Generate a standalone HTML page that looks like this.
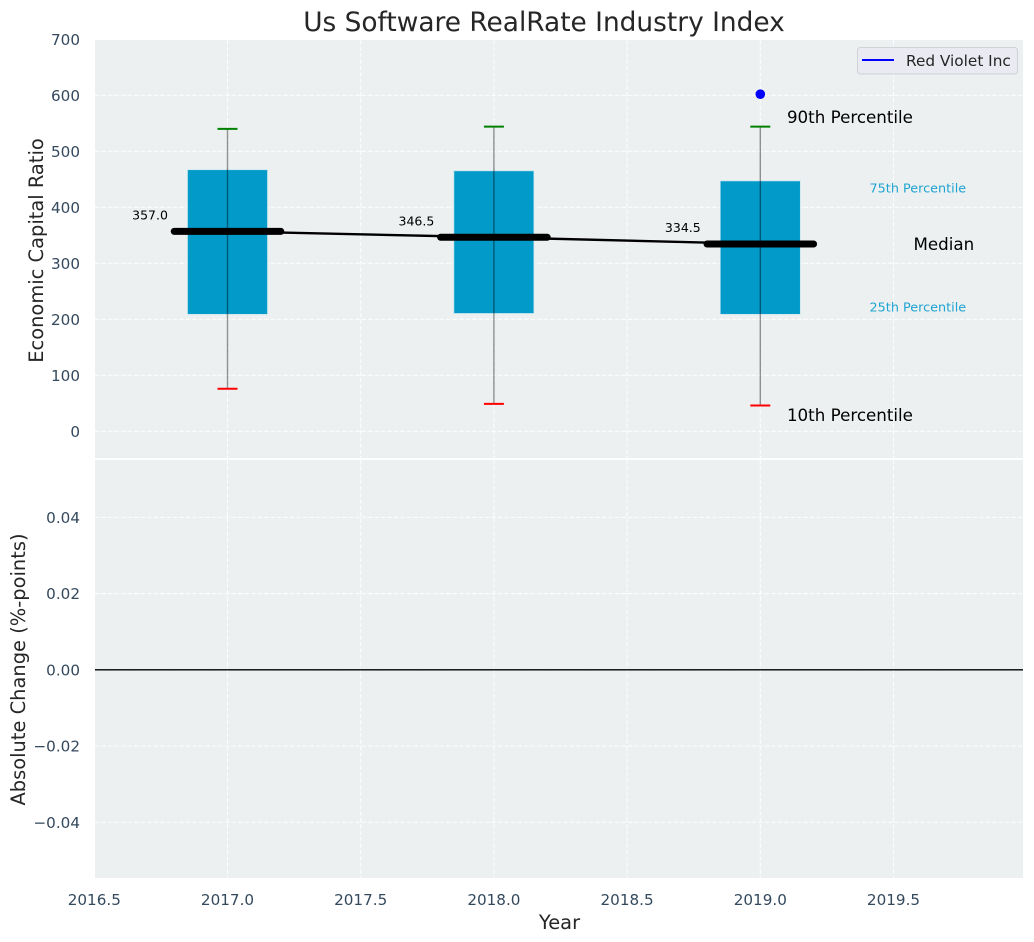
<!DOCTYPE html>
<html>
<head>
<meta charset="utf-8">
<title>Us Software RealRate Industry Index</title>
<style>
html,body{margin:0;padding:0;background:#fff;width:1034px;height:942px;overflow:hidden}
svg{display:block;font-family:"DejaVu Sans","Liberation Sans",sans-serif}
</style>
</head>
<body>
<svg id="chart" width="1034" height="942" viewBox="0 0 1034 942" xmlns="http://www.w3.org/2000/svg">
  <rect x="95" y="40" width="928" height="418" fill="#ecf0f1"/>
  <rect x="95" y="460" width="928" height="418" fill="#ecf0f1"/>
  <g id="grid"></g>
  <g id="ticks"></g>
  <g id="marks"></g>
  <text x="544" y="31" text-anchor="middle" font-size="26.4" fill="#262626">Us Software RealRate Industry Index</text>
  <text transform="translate(43,250.5) rotate(-90)" text-anchor="middle" font-size="19.45" fill="#262626">Economic Capital Ratio</text>
  <text transform="translate(25,669.5) rotate(-90)" text-anchor="middle" font-size="19.45" fill="#262626">Absolute Change (%-points)</text>
  <text x="559.5" y="929" text-anchor="middle" font-size="19.45" fill="#262626">Year</text>
  <g>
    <rect x="857.5" y="47.5" width="160" height="26.5" rx="3" fill="#eaeaf2" stroke="#cfd2d6" stroke-width="1"/>
    <line x1="862" x2="894" y1="60" y2="60" stroke="#0000ff" stroke-width="2"/>
    <text x="906" y="66" font-size="15.3" fill="#262626">Red Violet Inc</text>
  </g>
</svg>
<script>
var years = [2017, 2018, 2019];
var p10 = [76, 49, 46];
var p25 = [209, 210.5, 209];
var medians = [357.0, 346.5, 334.5];
var p75 = [467, 465, 447];
var p90 = [540, 544, 544];
var companyYears = [2019];
var companyValues = [602];
var xTicks = [2016.5, 2017.0, 2017.5, 2018.0, 2018.5, 2019.0, 2019.5];
var topYTicks = [0, 100, 200, 300, 400, 500, 600, 700];
var bottomYTicks = [-0.04, -0.02, 0.00, 0.02, 0.04];
var zeroLineValues = [0];

var NS = 'http://www.w3.org/2000/svg';
function xs(v){ return 227.5 + (v - 2017) * 266.4; }
function yt(v){ return 431.3 - v * 0.56; }
function yb(v){ return 669.8 - v * 3812; }
function mk(tag, attrs, parent){
  var el = document.createElementNS(NS, tag);
  for (var k in attrs) el.setAttribute(k, attrs[k]);
  parent.appendChild(el);
  return el;
}
function fmtB(v){
  var s = Math.abs(v).toFixed(2);
  return (v < 0 ? '\u2212' : '') + s;
}
var grid = document.getElementById('grid');
var ticks = document.getElementById('ticks');
var marks = document.getElementById('marks');
var el;
var gridStyle = {stroke: '#fff', 'stroke-width': 1.1, 'stroke-dasharray': '4.5,2', 'stroke-opacity': 0.85};
function gridAttrs(a){
  for (var k in gridStyle) a[k] = gridStyle[k];
  return a;
}

xTicks.forEach(function(t){
  if (xs(t) >= 95) {
    el = mk('line', gridAttrs({x1: xs(t), x2: xs(t), y1: 40, y2: 458}), grid);
    
    
    el = mk('line', gridAttrs({x1: xs(t), x2: xs(t), y1: 460, y2: 878}), grid);
    
    
  }
  el = mk('text', {x: xs(t), y: 905, 'text-anchor': 'middle', 'font-size': 15.2, fill: '#34495e'}, ticks);
  
  
  el.textContent = t.toFixed(1);
});
topYTicks.forEach(function(t){
  if (t < 700) {
    el = mk('line', gridAttrs({x1: 95, x2: 1023, y1: yt(t), y2: yt(t)}), grid);
    
    
  }
  el = mk('text', {x: 80, y: yt(t) + 5.5, 'text-anchor': 'end', 'font-size': 15.2, fill: '#34495e'}, ticks);
  
  
  el.textContent = String(t);
});
bottomYTicks.forEach(function(t){
  el = mk('line', gridAttrs({x1: 95, x2: 1023, y1: yb(t), y2: yb(t)}), grid);
  
  
  el = mk('text', {x: 80, y: yb(t) + 5.5, 'text-anchor': 'end', 'font-size': 15.2, fill: '#34495e'}, ticks);
  
  
  el.textContent = fmtB(t);
});
zeroLineValues.forEach(function(v){
  el = mk('line', {x1: 95, x2: 1023, y1: yb(v), y2: yb(v), stroke: '#000', 'stroke-width': 1.4}, marks);
  
  
});

years.forEach(function(y, i){
  el = mk('rect', {x: xs(y - 0.15), y: yt(p75[i]), width: xs(y + 0.15) - xs(y - 0.15), height: yt(p25[i]) - yt(p75[i]), fill: '#019ac9', stroke: '#bfe3ee', 'stroke-width': 0.6}, marks);
  
  
});
el = mk('polyline', {points: years.map(function(y, i){ return xs(y) + ',' + yt(medians[i]); }).join(' '), fill: 'none', stroke: '#000', 'stroke-width': 2.4}, marks);


years.forEach(function(y, i){
  var cx = xs(y);
  el = mk('line', {x1: cx, x2: cx, y1: yt(p90[i]), y2: yt(p10[i]), stroke: '#000', 'stroke-opacity': 0.42, 'stroke-width': 1.4}, marks);
  
  
  el = mk('line', {x1: cx - 10, x2: cx + 10, y1: yt(p90[i]), y2: yt(p90[i]), stroke: '#008000', 'stroke-width': 2}, marks);
  
  
  el = mk('line', {x1: cx - 10, x2: cx + 10, y1: yt(p10[i]), y2: yt(p10[i]), stroke: '#ff0000', 'stroke-width': 2}, marks);
  
  
  el = mk('line', {x1: xs(y - 0.2), x2: xs(y + 0.2), y1: yt(medians[i]), y2: yt(medians[i]), stroke: '#000', 'stroke-width': 7, 'stroke-linecap': 'round'}, marks);
  
  
  el = mk('text', {x: xs(y - 0.358), y: yt(medians[i]) - 12, 'font-size': 12.5, fill: '#000'}, marks);
  
  
  el.textContent = medians[i].toFixed(1);
});
companyYears.forEach(function(y, i){
  el = mk('circle', {cx: xs(y), cy: yt(companyValues[i]), r: 4.8, fill: '#0000ff'}, marks);
  
  
});

var last = years.length - 1;
var lastYear = years[last];
el = mk('text', {x: xs(lastYear + 0.1), y: yt(p90[last] + 17) + 6, 'font-size': 16.7, fill: '#000'}, marks);


el.textContent = '90th Percentile';
el = mk('text', {x: xs(lastYear + 0.41), y: yt(p75[last] - 13) + 4, 'font-size': 12.8, fill: '#1fa3d1'}, marks);


el.textContent = '75th Percentile';
el = mk('text', {x: xs(lastYear + 0.575), y: yt(medians[last]) + 6, 'font-size': 16.7, fill: '#000'}, marks);


el.textContent = 'Median';
el = mk('text', {x: xs(lastYear + 0.41), y: yt(p25[last] + 13) + 4.5, 'font-size': 12.8, fill: '#1fa3d1'}, marks);


el.textContent = '25th Percentile';
el = mk('text', {x: xs(lastYear + 0.1), y: yt(p10[last] - 17) + 6, 'font-size': 16.7, fill: '#000'}, marks);


el.textContent = '10th Percentile';
</script>
</body>
</html>
